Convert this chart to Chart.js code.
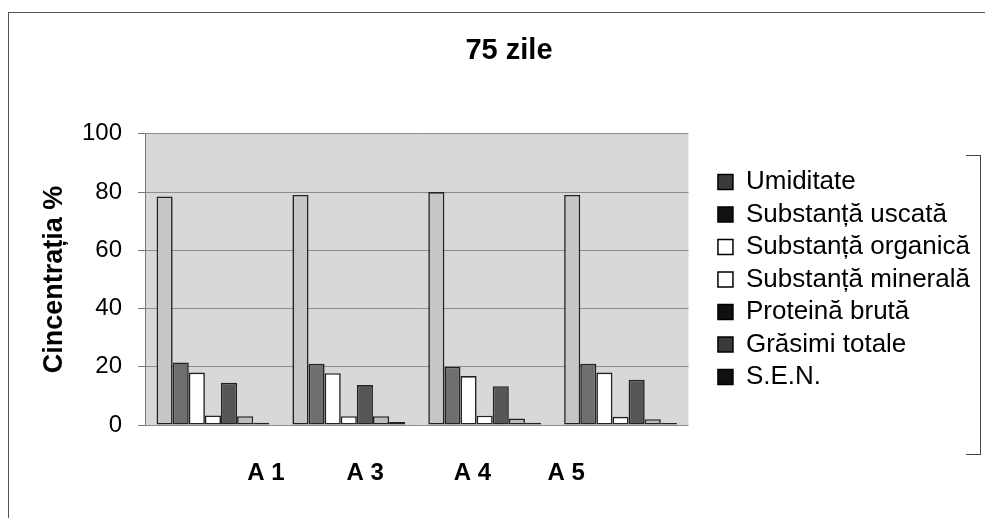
<!DOCTYPE html>
<html>
<head>
<meta charset="utf-8">
<script src="https://cdn.jsdelivr.net/npm/chart.js@4.4.1/dist/chart.umd.min.js"></script>
<style>
    html, body { margin: 0; padding: 0; background: #ffffff; }
    #wrap {
        position: relative;
        width: 985px;
        height: 518px;
        overflow: hidden;
    }
    #frame {
        position: absolute;
        left: 8px;
        top: 12px;
        width: 990px;
        height: 520px;
        border-top: 1px solid #555;
        border-left: 1px solid #555;
        pointer-events: none;
    }
    #legend-frame {
        position: absolute;
        left: 966px;
        top: 155px;
        width: 14px;
        height: 298px;
        border-top: 1px solid #444;
        border-right: 1px solid #444;
        border-bottom: 1px solid #444;
        pointer-events: none;
    }
</style>
</head>
<body>
<div id="wrap">
    <canvas id="chart" width="985" height="518"></canvas>
    <div id="frame"></div>
    <div id="legend-frame"></div>
</div>
<script>
// categories and series
const categories = ['A 1', 'A 3', 'A 4', 'A 5'];
const umiditate = [78.5, 79, 80, 79];
const substantaUscata = [21.5, 21, 20, 21];
const substantaOrganica = [18, 17.8, 16.8, 18];
const substantaMinerala = [3.3, 3, 3.2, 2.8];
const proteinaBruta = [14.5, 13.7, 13.3, 15.5];
const grasimiTotale = [3, 3, 2.2, 2];
const sen = [0.8, 1, 0.8, 0.7];
const yTicks = [0, 20, 40, 60, 80, 100];

// where the category labels sit in the scan (in category units)
const labelAt = [0.39, 1.12, 1.91, 2.6];

const seriesNames = [
    'Umiditate', 'Substanță uscată', 'Substanță organică', 'Substanță minerală',
    'Proteină brută', 'Grăsimi totale', 'S.E.N.'
];
const seriesData = [umiditate, substantaUscata, substantaOrganica, substantaMinerala, proteinaBruta, grasimiTotale, sen];
const barColors = ['#c6c6c6', '#6f6f6f', '#ffffff', '#ffffff', '#565656', '#bcbcbc', '#1e1e1e'];
const legendColors = ['#3a3a3a', '#111111', '#ffffff', '#ffffff', '#111111', '#3a3a3a', '#111111'];

const plotBackground = {
    id: 'plotBackground',
    beforeDraw(chart) {
        const { ctx, chartArea } = chart;
        ctx.save();
        ctx.fillStyle = '#d8d8d8';
        ctx.fillRect(chartArea.left, chartArea.top, chartArea.right - chartArea.left, chartArea.bottom - chartArea.top);
        ctx.restore();
    },
};

const font = 'Liberation Sans, Arial, sans-serif';

new Chart(document.getElementById('chart'), {
    type: 'bar',
    data: {
        labels: categories,
        datasets: seriesNames.map((name, i) => ({
            label: name,
            data: seriesData[i],
            backgroundColor: barColors[i],
            borderColor: '#222222',
            borderWidth: 1.6,
            borderSkipped: false,
            xAxisID: 'x',
        })),
    },
    options: {
        responsive: false,
        animation: false,
        layout: { padding: { left: 38, right: 5, top: 10, bottom: 5 } },
        datasets: {
            bar: { categoryPercentage: 0.83, barPercentage: 1.0 },
        },
        plugins: {
            title: {
                display: true,
                text: '75 zile',
                color: '#000000',
                font: { family: font, size: 29, weight: 'bold' },
                padding: { top: 24, bottom: 65 },
            },
            legend: {
                position: 'right',
                align: 'center',
                fullSize: false,
                maxWidth: 320,
                labels: {
                    color: '#000000',
                    font: { family: font, size: 26 },
                    boxWidth: 15,
                    boxHeight: 15,
                    padding: 6.5,
                    generateLabels(chart) {
                        return chart.data.datasets.map((ds, i) => ({
                            text: ds.label,
                            fillStyle: legendColors[i],
                            strokeStyle: '#000000',
                            lineWidth: 1.5,
                            hidden: false,
                            datasetIndex: i,
                        }));
                    },
                },
            },
            tooltip: { enabled: false },
        },
        scales: {
            x: {
                type: 'category',
                display: false,
                offset: true,
            },
            x2: {
                type: 'linear',
                position: 'bottom',
                offset: false,
                min: -0.5,
                max: 3.5,
                grid: { display: false, drawTicks: false, offset: false },
                border: { display: false },
                afterBuildTicks(axis) {
                    axis.ticks = labelAt.map((v) => ({ value: v }));
                },
                afterFit(axis) {
                    axis.height = 88;
                },
                ticks: {
                    autoSkip: false,
                    maxRotation: 0,
                    padding: 34,
                    color: '#000000',
                    font: { family: font, size: 24, weight: 'bold' },
                    callback: (value, index) => categories[index],
                },
            },
            y: {
                min: 0,
                max: 100,
                afterBuildTicks(axis) {
                    axis.ticks = yTicks.map((v) => ({ value: v }));
                },
                afterFit(axis) {
                    axis.width = 107;
                },
                grid: {
                    color: '#8c8c8c',
                    lineWidth: 1,
                    drawTicks: true,
                    tickLength: 7,
                    tickColor: '#777777',
                },
                border: { display: true, color: '#777777', width: 1 },
                ticks: {
                    color: '#000000',
                    padding: 16,
                    font: { family: font, size: 24 },
                },
                title: {
                    display: true,
                    text: 'Cincentrația %',
                    color: '#000000',
                    font: { family: font, size: 27, weight: 'bold' },
                    padding: { top: 0, bottom: 0 },
                },
            },
            // empty spacer between the plot and the legend
            gap: {
                type: 'linear',
                position: 'right',
                min: 0,
                max: 100,
                grid: { display: false, drawTicks: false },
                border: { display: false },
                ticks: { display: false },
                afterFit(axis) {
                    axis.width = 23;
                },
            },
        },
    },
    plugins: [plotBackground],
});
</script>
</body>
</html>
